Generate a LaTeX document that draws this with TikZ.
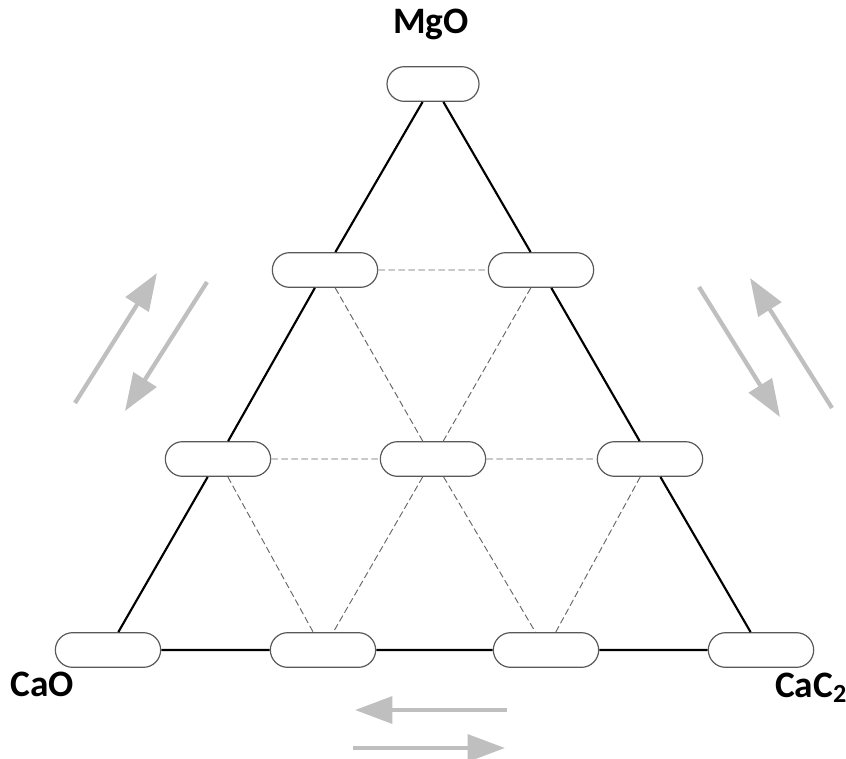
\documentclass[tikz,border=0pt]{standalone}
\usepackage{fontspec}
\setmainfont{Carlito}
\usetikzlibrary{arrows.meta, shapes.misc}
\tikzstyle{pill} = [draw=black!65, line width=0.9pt, fill=white, rounded rectangle, minimum width=79pt, minimum height=26pt, inner sep=0pt]
\tikzstyle{side} = [line width=1.6pt]
\tikzstyle{mesh} = [black!60, line width=0.7pt, dash pattern=on 5pt off 2.5pt]
\tikzstyle{compound} = [font=\fontsize{28}{32}\selectfont\bfseries, anchor=base, inner sep=0pt]
\tikzstyle{flow} = [-{Triangle[length=28pt, width=20pt]}, line width=3.2pt, black!25]

\begin{document}
\begin{tikzpicture}[x=0.75pt, y=-0.75pt]
    \useasboundingbox (0,0) rectangle (846,758);

    % Pills.
    \node (top) [pill, minimum width=69pt] at (433,84) {};
    \node (u1) [pill] at (325,270) {};
    \node (u2) [pill] at (541,270) {};
    \node (m1) [pill] at (218,459) {};
    \node (m2) [pill] at (433,459) {};
    \node (m3) [pill] at (650,459) {};
    \node (b1) [pill] at (108,650) {};
    \node (b2) [pill] at (323,650) {};
    \node (b3) [pill] at (546,650) {};
    \node (b4) [pill] at (761,650) {};

    % Labels.
    \node (mgo) [compound] at (431,33) {MgO};
    \node (cao) [compound] at (42,696) {CaO};
    \node (cac) [compound] at (811,697) {CaC\textsubscript{2}};

    % Triangle.
    \draw [side] (b1) -- (b2) -- (b3) -- (b4);
    \draw [side] (b4) -- (m3) -- (u2) -- (top);
    \draw [side] (top) -- (u1) -- (m1) -- (b1);

    % Grid.
    \draw [mesh] (u1) -- (u2);
    \draw [mesh] (m1) -- (m2) -- (m3);
    \draw [mesh] (u1) -- (m2) -- (b3);
    \draw [mesh] (u2) -- (m2) -- (b2);
    \draw [mesh] (m1) -- (b2);
    \draw [mesh] (m3) -- (b3);

    % Arrows.
    \coordinate (l up a) at (75,403);
    \coordinate (l up b) at (157,273);
    \coordinate (l dn a) at (207,282);
    \coordinate (l dn b) at (125,411);
    \coordinate (r dn a) at (699,287);
    \coordinate (r dn b) at (780,417);
    \coordinate (r up a) at (832,408);
    \coordinate (r up b) at (750,278);
    \coordinate (b lt a) at (507,710);
    \coordinate (b lt b) at (355,710);
    \coordinate (b rt a) at (353,748);
    \coordinate (b rt b) at (505,748);
    \draw [flow] (l up a) -- (l up b);
    \draw [flow] (l dn a) -- (l dn b);
    \draw [flow] (r dn a) -- (r dn b);
    \draw [flow] (r up a) -- (r up b);
    \draw [flow] (b lt a) -- (b lt b);
    \draw [flow] (b rt a) -- (b rt b);
\end{tikzpicture}
\end{document}
